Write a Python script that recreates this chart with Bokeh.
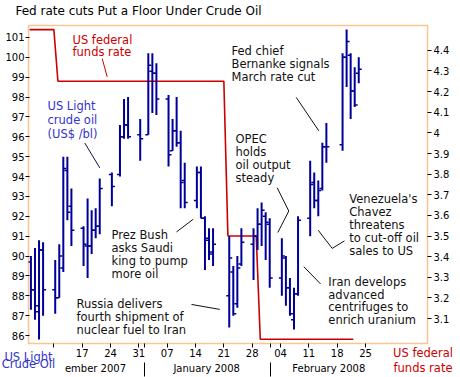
import datetime as dt
import numpy as np
from bokeh.plotting import figure
from bokeh.models import (Range1d, LinearAxis, DatetimeAxis, FixedTicker, CustomJSTickFormatter,
                          Label, ColumnDataSource)
from bokeh.embed import file_html
from bokeh.resources import INLINE

# ---------------- data ----------------
bar_dates = ["2007-12-04", "2007-12-05", "2007-12-06", "2007-12-07", "2007-12-10",
             "2007-12-11", "2007-12-12", "2007-12-13", "2007-12-14", "2007-12-17",
             "2007-12-18", "2007-12-19", "2007-12-20", "2007-12-21", "2007-12-24",
             "2007-12-26", "2007-12-27", "2007-12-28", "2007-12-31", "2008-01-02",
             "2008-01-03", "2008-01-04", "2008-01-07", "2008-01-08", "2008-01-09",
             "2008-01-10", "2008-01-11", "2008-01-14", "2008-01-15", "2008-01-16",
             "2008-01-17", "2008-01-18", "2008-01-22", "2008-01-23", "2008-01-24",
             "2008-01-25", "2008-01-28", "2008-01-29", "2008-01-30", "2008-01-31",
             "2008-02-01", "2008-02-04", "2008-02-05", "2008-02-06", "2008-02-07",
             "2008-02-08", "2008-02-11", "2008-02-12", "2008-02-13", "2008-02-14",
             "2008-02-15", "2008-02-19", "2008-02-20", "2008-02-21", "2008-02-22",
             "2008-02-23"]
opens = [89.7, 88.3, 87.2, 90.3, 88.3, 87.9, 89.4, 94.3, 92.5, 91.4,
         90.5, 90.5, 91.3, 91.5, 94.1, 94.1, 96.0, 96.6, 96.1, 96.1,
         99.3, 99.2, 97.9, 95.3, 96.3, 95.7, 93.8, 92.8, 94.2, 91.9,
         90.9, 90.2, 88.0, 89.2, 87.6, 89.6, 90.6, 91.0, 91.6, 92.0,
         91.6, 88.9, 89.9, 88.4, 86.8, 88.1, 91.9, 93.7, 92.8, 93.4,
         95.5, 95.6, 100.0, 100.1, 98.3, 99.2]
highs = [90.0, 90.4, 90.8, 90.7, 89.8, 90.6, 95.0, 95.0, 93.4, 91.5,
         92.9, 92.3, 92.4, 93.9, 94.2, 96.6, 97.9, 98.0, 96.9, 100.2,
         100.2, 99.7, 98.1, 96.9, 98.0, 96.3, 94.7, 94.5, 94.5, 92.0,
         91.4, 91.4, 91.0, 89.5, 90.0, 91.4, 91.4, 92.4, 92.7, 92.2,
         91.9, 90.9, 90.0, 88.9, 88.4, 92.0, 94.8, 94.2, 93.8, 95.7,
         96.7, 100.2, 101.4, 100.2, 99.5, 100.0]
lows = [87.3, 86.8, 85.8, 87.0, 87.1, 87.9, 89.2, 91.8, 90.5, 89.5,
        88.9, 90.1, 90.9, 91.1, 92.5, 94.0, 95.9, 95.9, 94.8, 96.1,
        97.2, 97.1, 94.5, 95.3, 95.5, 92.4, 92.4, 92.4, 91.9, 89.3,
        89.8, 89.5, 86.4, 87.0, 87.4, 89.5, 88.8, 90.3, 90.5, 89.8,
        88.4, 88.0, 87.5, 87.0, 86.3, 88.0, 91.0, 92.4, 92.0, 93.3,
        94.7, 95.3, 98.5, 96.9, 97.5, 98.7]
closes = [88.3, 87.5, 90.3, 88.3, 87.9, 90.0, 94.4, 92.2, 91.3, 90.6,
          90.5, 91.3, 91.5, 93.4, 93.5, 96.0, 96.6, 96.0, 95.9, 99.6,
          99.2, 97.9, 95.1, 96.3, 95.7, 93.7, 92.7, 94.2, 91.9, 90.8,
          90.1, 90.6, 89.9, 87.1, 89.4, 90.7, 91.0, 91.6, 92.3, 91.7,
          88.9, 90.0, 88.4, 87.1, 88.1, 91.8, 93.6, 92.8, 93.3, 95.5,
          95.5, 100.0, 100.8, 98.3, 97.6, 99.4]

fed_dates = ["2007-12-04", "2007-12-10", "2007-12-11", "2008-01-21", "2008-01-22",
             "2008-01-29", "2008-01-30", "2008-02-22"]
fed_rates = [4.50, 4.50, 4.25, 4.25, 3.50, 3.50, 3.00, 3.00]

price_ticks = list(range(86, 102))
rate_ticks = [3.1, 3.2, 3.3, 3.4, 3.5, 3.6, 3.7, 3.8, 3.9, 4.0, 4.1, 4.2, 4.3, 4.4]
week_ticks = ["2007-12-17", "2007-12-24", "2007-12-31", "2008-01-07", "2008-01-14",
              "2008-01-21", "2008-01-28", "2008-02-04", "2008-02-11", "2008-02-18",
              "2008-02-25"]
minor_dates = ["2007-12-10", "2008-01-01", "2008-02-01"]
month_labels = ["ember 2007", "January 2008", "February 2008"]
title_text = "Fed rate cuts Put a Floor Under Crude Oil"
left_key = ["US Light", "Crude Oil"]
right_key = ["US federal", "funds rate"]

# ---------------- helpers ----------------
EPOCH = dt.datetime(1970, 1, 1)
HOUR = 3600 * 1000.0


def ms(s, hours=0.0):
    return (dt.datetime.strptime(s, "%Y-%m-%d") - EPOCH).total_seconds() * 1000 + hours * HOUR


W, H = 460, 377
FL, FT, FR, FB = 28, 25, 427, 345
x_start = (dt.datetime(2007, 12, 3, 17, 33) - EPOCH).total_seconds() * 1000
x_end = (dt.datetime(2008, 3, 11, 7, 41) - EPOCH).total_seconds() * 1000
y_lo, y_hi = 85.6, 101.6
r_lo, r_hi = 2.9795, 4.5202


def X(px):
    return x_start + (px - FL) / (FR - FL) * (x_end - x_start)


def Y(py):
    return y_lo + (FB - py) / (FB - FT) * (y_hi - y_lo)


FONT = "DejaVu Sans"
BAR = "#000099"
RED = "#CC0000"
BLUE = "#3333CC"
INK = "#111111"
FRAME = "#F9C693"

p = figure(width=W, height=H, x_axis_type="datetime",
           x_range=Range1d(x_start, x_end), y_range=Range1d(y_lo, y_hi),
           output_backend="svg", toolbar_location=None,
           min_border_left=FL, min_border_right=W - FR,
           min_border_top=FT, min_border_bottom=H - FB,
           outline_line_color=FRAME, outline_line_width=1.5,
           background_fill_color="white", border_fill_color="white")
p.xgrid.visible = False
p.ygrid.visible = False
p.extra_y_ranges = {"rate": Range1d(r_lo, r_hi)}

# grab the default axes before adding any others
xa = p.below[0]
ya = p.left[0]


def text_axis(ticks, labels, color, size, standoff):
    ax = DatetimeAxis(ticker=FixedTicker(ticks=ticks),
                      formatter=CustomJSTickFormatter(args=dict(labels=labels),
                                                      code="return labels[index];"))
    ax.axis_line_color = None
    ax.major_tick_line_color = None
    ax.minor_tick_line_color = None
    ax.major_tick_out = 0
    ax.major_tick_in = 0
    ax.major_label_standoff = int(standoff)
    ax.major_label_text_font = FONT
    ax.major_label_text_font_size = size
    ax.major_label_text_color = color
    return ax


# x axis (days)
xa.ticker = FixedTicker(ticks=[ms(d) for d in week_ticks],
                        minor_ticks=[ms(minor_dates[0]), ms(minor_dates[1], 12), ms(minor_dates[2], 12)])
xa.formatter = CustomJSTickFormatter(code="""
const d = new Date(tick); const n = d.getUTCDate();
return (n < 10 ? '0' : '') + n;""")
xa.axis_line_color = None
xa.major_tick_line_color = "black"
xa.minor_tick_line_color = "black"
xa.major_tick_out = 4
xa.major_tick_in = 0
xa.minor_tick_out = 4
xa.minor_tick_in = 0
xa.major_label_standoff = 1
xa.major_label_text_font = FONT
xa.major_label_text_font_size = "10px"
xa.major_label_text_color = "black"

# left axis
ya.ticker = FixedTicker(ticks=price_ticks)
ya.axis_line_color = None
ya.major_tick_line_color = "black"
ya.minor_tick_line_color = None
ya.major_tick_out = 3
ya.major_tick_in = 1
ya.major_label_standoff = 1
ya.major_label_text_font = FONT
ya.major_label_text_font_size = "10px"
ya.major_label_text_color = "black"

# right axis
ra = LinearAxis(y_range_name="rate", ticker=FixedTicker(ticks=rate_ticks),
                formatter=CustomJSTickFormatter(code="return String(Math.round(tick*10)/10);"))
ra.axis_line_color = None
ra.major_tick_line_color = "black"
ra.minor_tick_line_color = None
ra.major_tick_out = 4
ra.major_tick_in = 0
ra.major_label_standoff = 2
ra.major_label_text_font = FONT
ra.major_label_text_font_size = "10px"
ra.major_label_text_color = "black"
p.add_layout(ra, "right")

# bottom rows (stacked below the day axis)
xl, xr = x_start + 1.0, X(422.5)
p.add_layout(text_axis([xr], [right_key[0]], RED, "11.5px", -14), "below")
p.add_layout(text_axis([xl], [left_key[0]], BLUE, "11.5px", -13), "below")
month_centers = [X(95.0), X(206.2), X(328.3)]
ma = text_axis(month_centers, month_labels, "black", "10px", -14)
ma.ticker = FixedTicker(ticks=month_centers,
                        minor_ticks=[ms(minor_dates[1], 12), ms(minor_dates[2], 12)])
ma.minor_tick_line_color = "black"
ma.minor_tick_out = 10
ma.minor_tick_in = 4
p.add_layout(ma, "below")
p.add_layout(text_axis([xl], [left_key[1]], BLUE, "11.5px", -20), "below")
p.add_layout(text_axis([xr], [right_key[1]], RED, "11.5px", -16), "below")

# heading (tick label of an axis above the frame)
p.add_layout(text_axis([X(138.0)], [title_text], "black", "12px", 8), "above")

# fed funds rate line
p.line(x=[ms(d) for d in fed_dates], y=fed_rates, y_range_name="rate",
       line_color=RED, line_width=1.6)

# OHLC bars
src = ColumnDataSource(dict(x=[ms(d, 8) for d in bar_dates], o=opens, h=highs, l=lows, c=closes))
p.segment(x0="x", y0="l", x1="x", y1="h", source=src, line_color=BAR, line_width=2)
p.ray(x="x", y="o", length=3, length_units="screen", angle=np.pi, source=src,
      line_color=BAR, line_width=1.5)
p.ray(x="x", y="c", length=3, length_units="screen", angle=0, source=src,
      line_color=BAR, line_width=1.5)

# leader lines (page pixel positions)
leaders = [
    ([101.7, 106.7], [58.3, 76.7], RED),
    ([84.3, 99.3], [143.3, 168.3], "#111144"),
    ([295.7, 318.3], [97.3, 131.0], INK),
    ([276.7, 288.3, 277.3], [188.3, 211.7, 233.3], INK),
    ([176.0, 192.7], [232.7, 220.0], INK),
    ([191.0, 219.3], [305.7, 310.7], INK),
    ([317.7, 331.7, 344.0], [231.0, 249.3, 241.7], INK),
    ([303.3, 320.0], [267.7, 285.0], INK),
]
for xs, ys, col in leaders:
    p.line(x=[X(v) for v in xs], y=[Y(v) for v in ys], line_color=col, line_width=1)

# texts inside the frame: (text, left px, baseline px, color, size)
inner_texts = [
    ("US federal", 72.0, 39.2, RED, "11.5px"), ("funds rate", 72.0, 51.8, RED, "11.5px"),
    ("US Light", 47.0, 106.5, BLUE, "11.5px"), ("crude oil", 47.0, 120.5, BLUE, "11.5px"),
    ("(US$ /bl)", 47.0, 134.3, BLUE, "11.5px"),
    ("Fed chief", 231.0, 50.7, INK, "11.5px"), ("Bernanke signals", 231.0, 63.7, INK, "11.5px"),
    ("March rate cut", 231.0, 76.7, INK, "11.5px"),
    ("OPEC", 235.0, 139.5, INK, "11.5px"), ("holds", 235.0, 152.5, INK, "11.5px"),
    ("oil output", 235.0, 165.5, INK, "11.5px"), ("steady", 235.0, 178.5, INK, "11.5px"),
    ("Prez Bush", 111.0, 235.7, INK, "11.5px"), ("asks Saudi", 111.0, 248.9, INK, "11.5px"),
    ("king to pump", 111.0, 262.1, INK, "11.5px"), ("more oil", 111.0, 275.3, INK, "11.5px"),
    ("Russia delivers", 76.0, 305.0, INK, "11.5px"), ("fourth shipment of", 76.0, 318.4, INK, "11.5px"),
    ("nuclear fuel to Iran", 76.0, 331.7, INK, "11.5px"),
    ("Venezuela's", 348.8, 200.0, INK, "11.5px"), ("Chavez", 348.8, 213.0, INK, "11.5px"),
    ("threatens", 348.8, 226.0, INK, "11.5px"), ("to cut-off oil", 348.8, 239.0, INK, "11.5px"),
    ("sales to US", 348.8, 252.0, INK, "11.5px"),
    ("Iran develops", 327.8, 282.7, INK, "11.5px"), ("advanced", 327.8, 295.7, INK, "11.5px"),
    ("centrifuges to", 327.8, 308.7, INK, "11.5px"), ("enrich uranium", 327.8, 321.7, INK, "11.5px"),
]
for t, px, py, col, size in inner_texts:
    p.add_layout(Label(x=X(px), y=Y(py), text=t, text_font=FONT, text_font_size=size,
                       text_color=col, text_align="left", text_baseline="alphabetic"))

open("out.html", "w").write(file_html(p, INLINE))
